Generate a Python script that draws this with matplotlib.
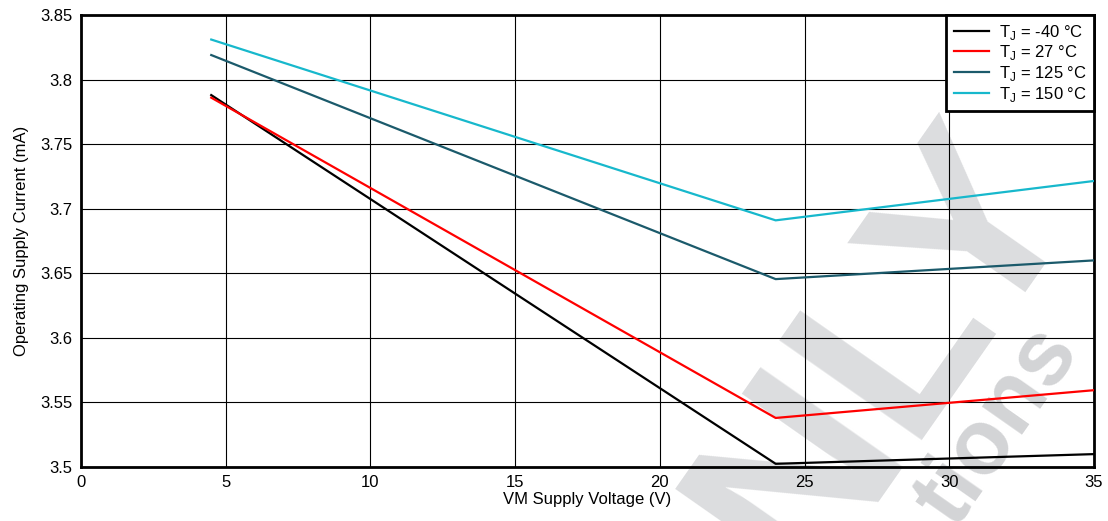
import numpy as np
import matplotlib.pyplot as plt

plt.rcParams['font.family'] = ['Liberation Sans', 'DejaVu Sans']

# VM supply voltage (V)
vm = [4.5, 24, 35]
# operating supply current (mA) per junction temperature
i_m40 = [3.788, 3.5025, 3.510]
i_27 = [3.786, 3.538, 3.5595]
i_125 = [3.819, 3.6455, 3.660]
i_150 = [3.831, 3.691, 3.7215]
labels = [r'T$_\mathregular{J}$ = -40 °C', r'T$_\mathregular{J}$ = 27 °C',
          r'T$_\mathregular{J}$ = 125 °C', r'T$_\mathregular{J}$ = 150 °C']
colors = ['#000000', '#ff0000', '#1b5a6b', '#17b8cc']

fig = plt.figure(figsize=(11.08, 5.21), dpi=100)
ax = fig.add_axes([0.0731, 0.1036, 0.9143, 0.8676])
ax.set_axisbelow(True)
ax.set_facecolor('none')

# watermark, behind the axes and partly off the page as in the original
fig.text(0.7230, -0.1296, 'NLY', fontsize=182, fontweight='bold',
         color='#dcdddf', rotation=55, rotation_mode='anchor',
         ha='left', va='baseline', zorder=-1)
fig.text(0.8620, -0.017, 'tions', fontsize=66, fontweight='bold',
         color='#d3d4d6', rotation=55, rotation_mode='anchor',
         ha='left', va='baseline', zorder=-1)

for y, lab, c in zip([i_m40, i_27, i_125, i_150], labels, colors):
    ax.plot(vm, y, color=c, lw=1.6, label=lab, zorder=3)

ax.set_xlim(0, 35)
ax.set_ylim(3.5, 3.85)
ax.set_xticks(np.arange(0, 36, 5))
ax.set_yticks([3.5, 3.55, 3.6, 3.65, 3.7, 3.75, 3.8, 3.85])
ax.set_yticklabels(['3.5', '3.55', '3.6', '3.65', '3.7', '3.75', '3.8', '3.85'])
ax.grid(True, color='black', lw=0.8)
ax.tick_params(length=0, labelsize=12, pad=6)
for s in ax.spines.values():
    s.set_linewidth(2)
ax.set_xlabel('VM Supply Voltage (V)', fontsize=12, labelpad=1)
ax.set_ylabel('Operating Supply Current (mA)', fontsize=12, labelpad=8)

leg = ax.legend(loc='upper right', fontsize=12, fancybox=False, framealpha=1,
                edgecolor='black', borderaxespad=0, handlelength=2.1,
                labelspacing=0.1, borderpad=0.45, handletextpad=0.6)
leg.get_frame().set_linewidth(2)
leg.set_zorder(5)

fig.savefig('out.png', dpi=100)
